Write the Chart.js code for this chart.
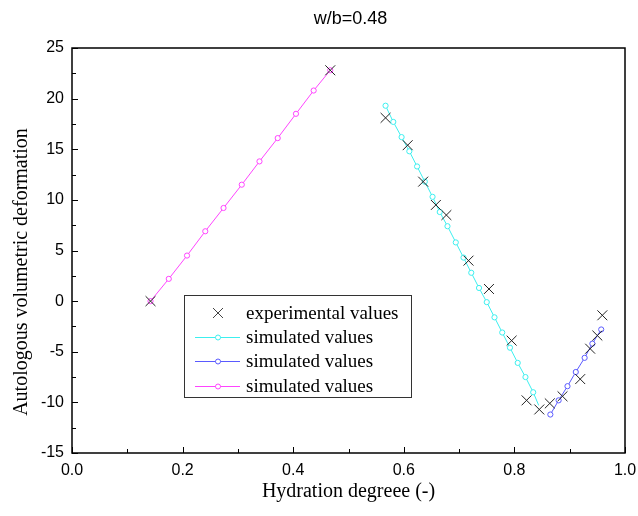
<!DOCTYPE html>
<html><head><meta charset="utf-8">
<script src="https://cdn.jsdelivr.net/npm/chart.js@4/dist/chart.umd.min.js"></script>
<style>html,body{margin:0;padding:0;background:#fff}#wrap{width:638px;height:516px}</style>
</head><body><div id="wrap"><canvas id="c" width="638" height="516"></canvas></div>
<script>
const chartTitle = 'w/b=0.48';
const xAxisTitle = 'Hydration degreee (-)';
const yAxisTitle = 'Autologous volumetric deformation';
const seriesNames = ['experimental values', 'simulated values', 'simulated values', 'simulated values'];
const xMajorTicks = [0, 0.2, 0.4, 0.6, 0.8, 1.0];
const xMinorTicks = [0.1, 0.3, 0.5, 0.7, 0.9];
const yMajorTicks = [-15, -10, -5, 0, 5, 10, 15, 20, 25];
const yMinorTicks = [-12.5, -7.5, -2.5, 2.5, 7.5, 12.5, 17.5, 22.5];

const expX = [0.142, 0.467, 0.567, 0.607, 0.635, 0.658, 0.677, 0.717, 0.754, 0.795, 0.822, 0.845, 0.864, 0.887, 0.919, 0.937, 0.950, 0.959];
const expY = [0.0, 22.8, 18.1, 15.4, 11.8, 9.5, 8.5, 4.0, 1.2, -3.9, -9.8, -10.7, -10.1, -9.4, -7.7, -4.7, -3.4, -1.4];

const simCx = [0.567, 0.581, 0.596, 0.610, 0.624, 0.638, 0.652, 0.665, 0.679, 0.694, 0.708, 0.722, 0.736, 0.750, 0.764, 0.778, 0.792, 0.806, 0.820, 0.834, 0.844];
const simCy = [19.3, 17.7, 16.2, 14.8, 13.3, 11.8, 10.3, 8.8, 7.4, 5.8, 4.3, 2.8, 1.3, -0.1, -1.6, -3.1, -4.6, -6.1, -7.5, -9.0, -10.3];

const simBx = [0.865, 0.880, 0.896, 0.911, 0.927, 0.941, 0.957];
const simBy = [-11.2, -9.8, -8.4, -7.0, -5.6, -4.2, -2.8];

const simMx = [0.142, 0.175, 0.208, 0.241, 0.274, 0.307, 0.339, 0.372, 0.405, 0.437, 0.467];
const simMy = [0.0, 2.2, 4.5, 6.9, 9.2, 11.5, 13.8, 16.1, 18.5, 20.8, 22.8];

const toPts = (xs, ys) => xs.map((x, i) => ({x: x, y: ys[i]}));

const COL_EXP = '#222222';
const COL_C = '#3CEFEF';
const COL_B = '#5A5AFF';
const COL_M = '#FF44FF';
const SERIF = '"Liberation Serif", "Times New Roman", serif';
const SANS = '"Liberation Sans", Arial, sans-serif';

const frame = {
  id: 'frame',
  afterDraw(chart) {
    const {ctx, chartArea: a, scales: {x, y}} = chart;
    ctx.save();
    ctx.strokeStyle = '#000';
    ctx.lineWidth = 1.5;
    ctx.strokeRect(a.left, a.top, a.right - a.left, a.bottom - a.top);
    ctx.lineWidth = 1;
    ctx.beginPath();
    xMajorTicks.forEach(v => { const p = Math.round(x.getPixelForValue(v)) + 0.5; ctx.moveTo(p, a.bottom); ctx.lineTo(p, a.bottom - 6); });
    xMinorTicks.forEach(v => { const p = Math.round(x.getPixelForValue(v)) + 0.5; ctx.moveTo(p, a.bottom); ctx.lineTo(p, a.bottom - 4); });
    yMajorTicks.forEach(v => { const p = Math.round(y.getPixelForValue(v)) + 0.5; ctx.moveTo(a.left, p); ctx.lineTo(a.left + 6, p); });
    yMinorTicks.forEach(v => { const p = Math.round(y.getPixelForValue(v)) + 0.5; ctx.moveTo(a.left, p); ctx.lineTo(a.left + 4, p); });
    ctx.stroke();

    // title
    ctx.fillStyle = '#000';
    ctx.font = '18px ' + SANS;
    ctx.textAlign = 'center';
    ctx.textBaseline = 'middle';
    ctx.fillText(chartTitle, (a.left + a.right) / 2 + 2, 19);

    // y axis title
    ctx.save();
    ctx.translate(22, a.top + 224);
    ctx.rotate(-Math.PI / 2);
    ctx.font = '20px ' + SERIF;
    ctx.fillText(yAxisTitle, 0, 0);
    ctx.restore();

    // legend
    const lx = a.left + 112, ly = a.top + 247, lw = 227, lh = 102;
    ctx.fillStyle = '#fff';
    ctx.fillRect(lx, ly, lw, lh);
    ctx.strokeStyle = '#333';
    ctx.lineWidth = 1;
    ctx.strokeRect(lx + 0.5, ly + 0.5, lw, lh);
    const rows = [18, 42, 66, 91];
    const cols = [COL_EXP, COL_C, COL_B, COL_M];
    ctx.font = '19px ' + SERIF;
    ctx.textAlign = 'left';
    rows.forEach((r, i) => {
      const cy = ly + r, cx = lx + 34;
      if (i === 0) {
        ctx.strokeStyle = '#444';
        ctx.beginPath();
        ctx.moveTo(cx - 5, cy - 5); ctx.lineTo(cx + 5, cy + 5);
        ctx.moveTo(cx + 5, cy - 5); ctx.lineTo(cx - 5, cy + 5);
        ctx.stroke();
      } else {
        ctx.strokeStyle = cols[i];
        ctx.beginPath();
        ctx.moveTo(lx + 11, cy + 0.5); ctx.lineTo(lx + 56, cy + 0.5);
        ctx.stroke();
        ctx.fillStyle = '#fff';
        ctx.beginPath();
        ctx.arc(cx, cy + 0.5, 2.5, 0, Math.PI * 2);
        ctx.fill(); ctx.stroke();
      }
      ctx.fillStyle = '#000';
      ctx.fillText(seriesNames[i], lx + 62, cy + 1);
    });
    ctx.restore();
  }
};

new Chart(document.getElementById('c'), {
  type: 'scatter',
  data: {
    datasets: [
      { label: seriesNames[0], data: toPts(expX, expY), showLine: false, pointStyle: 'crossRot', pointRadius: 7, borderColor: COL_EXP, backgroundColor: COL_EXP, pointBorderWidth: 1 },
      { label: seriesNames[1], data: toPts(simCx, simCy), showLine: true, borderColor: COL_C, backgroundColor: '#fff', borderWidth: 1, pointBorderWidth: 1,
        pointRadius: ctx => ctx.dataIndex === simCx.length - 1 ? 0 : 2.6, pointStyle: 'circle' },
      { label: seriesNames[2], data: toPts(simBx, simBy), showLine: true, borderColor: COL_B, backgroundColor: '#fff', borderWidth: 1, pointBorderWidth: 1, pointRadius: 2.6, pointStyle: 'circle' },
      { label: seriesNames[3], data: toPts(simMx, simMy), showLine: true, borderColor: COL_M, backgroundColor: '#fff', borderWidth: 1, pointBorderWidth: 1, pointRadius: 2.6, pointStyle: 'circle' }
    ]
  },
  options: {
    responsive: false,
    animation: false,
    devicePixelRatio: 1,
    events: [],
    layout: { padding: { top: 48, right: 13, bottom: 0, left: 0 } },
    plugins: { legend: { display: false }, title: { display: false }, tooltip: { enabled: false } },
    scales: {
      x: {
        type: 'linear', min: 0, max: 1,
        afterFit: s => { s.height = 63; s.paddingLeft = 0; s.paddingRight = 0; },
        afterBuildTicks: s => { s.ticks = xMajorTicks.map(v => ({value: v})); },
        grid: { display: false, drawTicks: false },
        border: { display: false },
        ticks: { padding: 8, color: '#000', font: { family: SANS, size: 16 }, maxRotation: 0, callback: v => Number(v).toFixed(1) },
        title: { display: true, text: xAxisTitle, color: '#000', font: { family: SERIF, size: 20 }, padding: { top: 0, bottom: 12 } }
      },
      y: {
        type: 'linear', min: -15, max: 25,
        afterFit: s => { s.width = 72; s.paddingTop = 0; s.paddingBottom = 0; },
        afterBuildTicks: s => { s.ticks = yMajorTicks.map(v => ({value: v})); },
        grid: { display: false, drawTicks: false },
        border: { display: false },
        ticks: { padding: 8, color: '#000', font: { family: SANS, size: 16 }, callback: v => String(v) },
        title: { display: false }
      }
    }
  },
  plugins: [frame]
});
</script>
</body></html>
